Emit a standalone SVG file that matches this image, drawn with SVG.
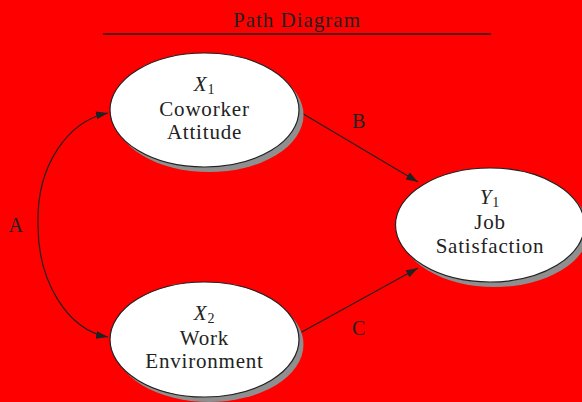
<svg xmlns="http://www.w3.org/2000/svg" width="582" height="402" viewBox="0 0 582 402">
<defs>
<marker id="ah" viewBox="0 0 12 8" refX="12" refY="4" markerWidth="12" markerHeight="8" markerUnits="userSpaceOnUse" orient="auto">
<path d="M0,0 L12,4 L0,8 Z" fill="#222"/>
</marker>
</defs>
<style>
text{font-family:"Liberation Serif","Times New Roman",serif;fill:#222;font-size:21px;letter-spacing:0.8px}
.lbl{text-anchor:middle}
.var{font-style:italic}
.sub{font-size:14px;font-style:normal}
.shadow{fill:#8f8f8f}
.node{fill:#fff;stroke:#222;stroke-width:1.2}
.edge{fill:none;stroke:#222;stroke-width:1.2;marker-end:url(#ah)}
</style>
<rect width="582" height="402" fill="#ff0000"/>
<g id="title">
<text x="297" y="27" class="lbl" style="letter-spacing:1px">Path Diagram</text>
<line x1="103" y1="34" x2="491" y2="34" stroke="#222" stroke-width="1.5"/>
</g>
<g id="connectors">
<path class="edge" d="M300,112 L418,182"/>
<path class="edge" d="M300,333 L418,268"/>
<path class="edge" d="M38,222 C37,165 68,121 108,113"/>
<path class="edge" d="M38,222 C37,282 68,330 108,337"/>
<text x="16" y="232" class="lbl" style="font-size:20px">A</text>
<text x="359" y="128" class="lbl" style="font-size:20px">B</text>
<text x="359" y="335" class="lbl" style="font-size:20px">C</text>
</g>
<g id="x1">
<ellipse class="shadow" cx="209" cy="115" rx="94.5" ry="57"/>
<ellipse class="node" cx="204.5" cy="110" rx="94.5" ry="57"/>
<text x="204.5" y="91" class="lbl"><tspan class="var">X</tspan><tspan class="sub" dy="3">1</tspan></text>
<text x="204.5" y="116" class="lbl">Coworker</text>
<text x="204.5" y="139" class="lbl">Attitude</text>
</g>
<g id="x2">
<ellipse class="shadow" cx="209" cy="344.5" rx="94.5" ry="57.5"/>
<ellipse class="node" cx="204.5" cy="339.5" rx="94.5" ry="57.5"/>
<text x="204.5" y="320" class="lbl"><tspan class="var">X</tspan><tspan class="sub" dy="3">2</tspan></text>
<text x="204.5" y="345" class="lbl">Work</text>
<text x="204.5" y="368" class="lbl">Environment</text>
</g>
<g id="y1">
<ellipse class="shadow" cx="494.5" cy="230" rx="94.5" ry="57"/>
<ellipse class="node" cx="490" cy="225" rx="94.5" ry="57"/>
<text x="490" y="204" class="lbl"><tspan class="var">Y</tspan><tspan class="sub" dy="3">1</tspan></text>
<text x="490" y="229" class="lbl">Job</text>
<text x="490" y="253" class="lbl">Satisfaction</text>
</g>
</svg>
